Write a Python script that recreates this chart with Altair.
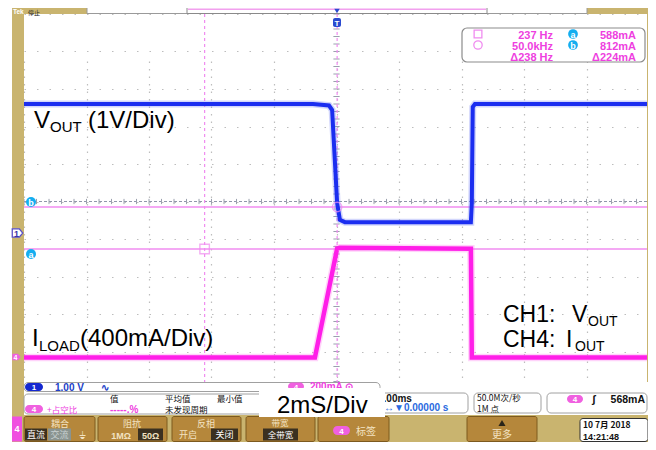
import altair as alt
import pandas as pd

# ---------------- captured values ----------------
# CH1  VOUT trace (time in ms, value in V), 1 V/div
t_vout = [-10.0, -0.75, -0.24, -0.14, 0.02, 0.11, 0.27, 4.30, 4.33, 4.36, 4.43, 10.0]
v_vout = [3.44, 3.44, 3.40, 3.28, 0.80, 0.35, 0.29, 0.29, 0.80, 3.36, 3.44, 3.44]
# CH4  ILOAD trace (time in ms, value in mA), 400 mA/div
t_iload = [-10.0, -0.69, 0.02, 0.10, 4.30, 4.33, 10.0]
i_iload = [0, 0, 1163, 1170, 1160, 0, 0]
# cursors
cursor_t = [-4.22, 0.02]          # ms  (square, circle)
cursor_level = [-1.267, -0.147]   # div (a, b)
readout_left = ["237 Hz", "50.0kHz", "\u0394238 Hz"]
readout_right = ["588mA", "812mA", "\u0394224mA"]

MS_PER_DIV = 2.0
CH1_V_PER_DIV = 1.0
CH4_MA_PER_DIV = 400.0
CH1_OFFSET_DIV = -0.84
CH4_OFFSET_DIV = -4.16

OFF = 8
W, H = 640, 434
GOLD = "#c9b46f"
BRONZE = "#b5873b"
MAG = "#ee3fe0"
CUR = "#f08cf0"
CYAN = "#14aef0"
CN = "Noto Sans CJK SC"
LS = "Liberation Sans"

xs = alt.Scale(domain=[-5 * MS_PER_DIV, 5 * MS_PER_DIV], range=[24 - OFF, 649 - OFF], nice=False, zero=False)
ys = alt.Scale(domain=[-5, 5], range=[389 - OFF, 14 - OFF], nice=False, zero=False)
xaxis = alt.Axis(values=[-10, -8, -6, -4, -2, 0, 2, 4, 6, 8, 10], grid=True, gridDash=[1.5, 6],
                 gridColor="#bdbdbd", gridWidth=1.2, labels=False, ticks=False, domain=False, title=None)
yaxis = alt.Axis(values=list(range(-5, 6)), grid=True, gridDash=[1.5, 11],
                 gridColor="#bdbdbd", gridWidth=1.2, labels=False, ticks=False, domain=False, title=None)


def XF(f):
    return alt.X(f, scale=xs, axis=xaxis)


def YF(f):
    return alt.Y(f, scale=ys, axis=yaxis)


def XD(v):
    return alt.XDatum(v, type="quantitative", scale=xs, axis=xaxis)


def YD(v):
    return alt.YDatum(v, type="quantitative", scale=ys, axis=yaxis)


one = pd.DataFrame({"k": [0]})
layers = []

# ---- graticule centre ticks ----
ht = pd.DataFrame({"t": [-10 + 0.4 * k for k in range(51)]})
vt = pd.DataFrame({"d": [-5 + 0.2 * k for k in range(51)]})
layers.append(alt.Chart(one).mark_rule(color="#8f98aa", strokeDash=[3, 2], strokeWidth=1).encode(
    x=XD(-10), x2=alt.X2Datum(10), y=YD(0)))
layers.append(alt.Chart(ht).mark_rule(color="#9aa0ae", strokeWidth=1).encode(
    x=XF("t:Q"), y=YD(-0.07), y2=alt.Y2Datum(0.07)))
layers.append(alt.Chart(vt).mark_rule(color="#9aa0ae", strokeWidth=1).encode(
    x=XD(-0.1), x2=alt.X2Datum(0.1), y=YF("d:Q")))

# ---- cursors ----
cl = pd.DataFrame({"lev": cursor_level})
ct = pd.DataFrame({"t": cursor_t})
layers.append(alt.Chart(cl).mark_rule(color=CUR, strokeWidth=1.4).encode(
    x=XD(-10), x2=alt.X2Datum(10), y=YF("lev:Q")))
layers.append(alt.Chart(ct).mark_rule(color=CUR, strokeWidth=1.2, strokeDash=[3, 3]).encode(
    x=XF("t:Q"), y=YD(-5), y2=alt.Y2Datum(5)))

# ---- traces ----
dv = pd.DataFrame({"t": t_vout, "v": v_vout})
di = pd.DataFrame({"t": t_iload, "i": i_iload})
vexpr = f"datum.v / {CH1_V_PER_DIV} + ({CH1_OFFSET_DIV})"
iexpr = f"datum.i / {CH4_MA_PER_DIV} + ({CH4_OFFSET_DIV})"
layers.append(alt.Chart(dv).transform_calculate(div=vexpr).mark_line(
    color="#6a78f5", strokeWidth=7, opacity=0.3).encode(x=XF("t:Q"), y=YF("div:Q")))
layers.append(alt.Chart(dv).transform_calculate(div=vexpr).mark_line(
    color="#1b2ef0", strokeWidth=4).encode(x=XF("t:Q"), y=YF("div:Q")))
layers.append(alt.Chart(di).transform_calculate(div=iexpr).mark_line(
    color="#ff6cf0", strokeWidth=7.5, opacity=0.3).encode(x=XF("t:Q"), y=YF("div:Q")))
layers.append(alt.Chart(di).transform_calculate(div=iexpr).mark_line(
    color="#ff1ee8", strokeWidth=4.5).encode(x=XF("t:Q"), y=YF("div:Q")))

# cursor markers
layers.append(alt.Chart(one).mark_point(shape="square", filled=False, color=CUR, size=90, strokeWidth=1.4).encode(
    x=XD(cursor_t[0]), y=YD(cursor_level[0])))
layers.append(alt.Chart(one).mark_point(shape="circle", filled=False, color=CUR, size=90, strokeWidth=1.4).encode(
    x=XD(cursor_t[1]), y=YD(cursor_level[1])))


# ---------------- helpers for screen furniture ----------------
def rect(x0, y0, x1, y1, fill, stroke=None, sw=1.0, r=0):
    kw = dict(fill=fill, cornerRadius=r)
    if stroke:
        kw.update(stroke=stroke, strokeWidth=sw)
    return alt.Chart(one).mark_rect(**kw).encode(
        x=alt.value(x0 - OFF), x2=alt.value(x1 - OFF), y=alt.value(y0 - OFF), y2=alt.value(y1 - OFF))


def text(x, y, s, size=10, color="black", weight="normal", align="left", font=LS):
    return alt.Chart(one).mark_text(text=s, fontSize=size, color=color, fontWeight=weight, align=align,
                                    baseline="alphabetic", font=font).encode(
        x=alt.value(x - OFF), y=alt.value(y - OFF))


def dot(x, y, size, fill, shape="circle", stroke=None, sw=1.0, filled=True):
    kw = dict(shape=shape, size=size, filled=filled, opacity=1)
    if filled:
        kw.update(fill=fill, fillOpacity=1)
        if stroke:
            kw.update(stroke=stroke, strokeWidth=sw)
        else:
            kw.update(strokeWidth=0)
    else:
        kw.update(stroke=fill, strokeWidth=sw)
    return alt.Chart(one).mark_point(**kw).encode(x=alt.value(x - OFF), y=alt.value(y - OFF))


# ---- annotations ----
layers += [
    text(34, 128, "V", 24), text(50, 132, "OUT", 15), text(88, 128, "(1V/Div)", 24),
    text(32, 346, "I", 24), text(39, 351, "LOAD", 15), text(80, 346, "(400mA/Div)", 24),
    text(503, 322, "CH1:", 23), text(572, 322, "V", 23), text(588, 326, "OUT", 14),
    text(503, 346.5, "CH4:", 23), text(566, 346.5, "I", 23), text(575, 350.5, "OUT", 14),
]

# ---- cursor readout box ----
layers.append(rect(462, 28, 645, 62, "white", stroke="#8c8c8c", sw=1.2, r=5))
layers.append(dot(478, 34, 60, CUR, shape="square", filled=False, sw=1.3))
layers.append(dot(478, 45, 70, CUR, shape="circle", filled=False, sw=1.3))
for k, yy in enumerate([38.5, 49.5, 60.5]):
    layers.append(text(553, yy, readout_left[k], 11, MAG, "bold", "right"))
    layers.append(text(636, yy, readout_right[k], 11, MAG, "bold", "right"))
for yy, lab in [(34, "a"), (45, "b")]:
    layers.append(dot(573, yy, 95, CYAN))
    layers.append(text(573, yy + 3.5, lab, 9, "white", "bold", "center"))

# ---- left markers ----
for yy, lab in [(202, "b"), (254, "a")]:
    layers.append(dot(31, yy, 100, CYAN))
    layers.append(text(31, yy + 3.5, lab, 9, "white", "bold", "center"))

# ---- frame furniture ----
layers += [
    rect(OFF, OFF, 12, 450, "white"),
    rect(12, 5, 656, 14, GOLD),
    rect(87, 5.5, 587, 13.5, "white", stroke="#9a9a9a", sw=1),
    rect(187, 5.5, 487, 13.5, "white", stroke="#8a8a8a", sw=1),
    rect(188, 8.6, 486, 10.0, "#f2a0ee"),
    text(13, 14.4, "Tek", 6.5, "white", "bold"),
    text(28, 14.6, "停止", 6, "#222", font=CN),
    rect(12, 14, 24, 416, GOLD),
    rect(647, 14, 649.5, 382, GOLD),
]
# trigger marker
layers.append(dot(337, 11, 30, "#2a4ad0", shape="triangle-down"))
layers.append(rect(333, 18, 341, 27, "#2a4ad0", r=2))
layers.append(text(337, 25.5, "T", 8, "white", "bold", "center"))
# channel ground markers
pent = "M-1,-0.8L0.35,-0.8L1,0L0.35,0.8L-1,0.8Z"
layers.append(dot(17.5, 233, 110, "white", shape=pent, stroke="#5a50c8", sw=1.3))
layers.append(text(16.5, 236.5, "1", 9, "#3a30a8", "bold", "center"))
layers.append(dot(16.5, 357, 70, "#f060e0", shape=pent))
layers.append(text(15.5, 360, "4", 7, "white", "bold", "center"))

# ---- status rows ----
layers += [
    rect(24, 382, 656, 415, "white"),
    rect(24, 382.5, 380, 391.5, "white", stroke="#a0a0a0", sw=1, r=4),
    rect(25, 383, 43, 391, "#1428d0", r=4),
    text(34, 390, "1", 8, "white", "bold", "center"),
    text(55, 390.5, "1.00 V", 10, "#2040c8", "bold"),
    text(101, 390.5, "\u223f", 10, "#2040c8", "bold"),
    rect(288, 382.5, 304, 390.5, "#f060e0", r=4),
    text(296, 389.5, "4", 8, "white", "bold", "center"),
    text(310, 390, "200mA \u2299", 10, MAG, "bold"),
    # row B
    rect(24, 394, 270, 414, "white", stroke="#a0a0a0", sw=1, r=4),
    text(110, 402, "值", 8.5, "#111", font=CN),
    text(165, 402, "平均值", 8.5, "#111", font=CN),
    text(217, 402, "最小值", 8.5, "#111", font=CN),
    rect(25, 405, 43, 413, "#f060e0", r=4),
    text(34, 412, "4", 8, "white", "bold", "center"),
    text(47, 412.5, "+占空比", 8.5, MAG, font=CN),
    text(110, 412.5, "-----.%", 10, MAG, "bold"),
    text(165, 412.5, "未发现周期", 8.5, "#111", font=CN),
    rect(372, 393, 468, 413, "white", stroke="#a0a0a0", sw=1, r=4),
    text(378, 401.5, "2.00ms", 10, "#111", "bold"),
    text(384, 411, "\u2194\u25bc0.00000 s", 10, "#2a6ae0", "bold"),
    rect(474, 393, 541, 413, "white", stroke="#a0a0a0", sw=1, r=4),
    text(477, 401, "50.0M次/秒", 8.5, "#111", font=CN),
    text(477, 411.5, "1M 点", 8.5, "#111", font=CN),
    rect(547, 393, 647, 413, "white", stroke="#a0a0a0", sw=1, r=4),
    rect(567, 395, 583, 403, "#f060e0", r=4),
    text(575, 402, "4", 8, "white", "bold", "center"),
    text(592, 402.5, "\u0283", 11, "#111", "bold"),
    text(645, 402.5, "568mA", 10.5, "#111", "bold", "right"),
]

# ---- bottom button row (kept inside the visible page) ----
CREAM = "#f3e3c3"
CHIP = "#3a3020"
layers += [
    rect(12, 415, 656, 450, GOLD),
    rect(12, 416.5, 22, 441.5, "#f050e0"),
    text(17, 432, "4", 9, "white", "bold", "center"),
]
for x0, x1 in [(24, 95), (98, 167), (172, 241), (246, 315), (318, 389), (467, 537)]:
    layers.append(rect(x0, 416.5, x1, 441.5, BRONZE, stroke="#7d5a1e", sw=1, r=2))
layers += [
    text(60, 426.5, "耦合", 9, CREAM, font=CN, align="center"),
    rect(25, 428.5, 47, 440.5, CHIP),
    text(36, 438, "直流", 9, "white", font=CN, align="center"),
    rect(48, 428.5, 71, 440.5, "#8a9490"),
    text(59.5, 438, "交流", 9, "#c8d0d0", font=CN, align="center"),
    text(82, 438.5, "\u23da", 10, CREAM, font="DejaVu Sans", align="center"),
    text(132, 426.5, "阻抗", 9, CREAM, font=CN, align="center"),
    text(121, 438.5, "1M\u03a9", 9, CREAM, "bold", "center"),
    rect(138, 428.5, 163, 440.5, CHIP),
    text(150.5, 438.5, "50\u03a9", 9, CREAM, "bold", "center"),
    text(206, 426.5, "反相", 9, CREAM, font=CN, align="center"),
    text(188, 438, "开启", 9, CREAM, font=CN, align="center"),
    rect(211, 428.5, 238, 440.5, CHIP),
    text(224.5, 438, "关闭", 9, "white", font=CN, align="center"),
    text(280, 426.3, "带宽", 8.5, CREAM, font=CN, align="center"),
    rect(263, 428.5, 298, 440.5, CHIP),
    text(280.5, 438.3, "全带宽", 8.5, "white", font=CN, align="center"),
    rect(333, 426, 350, 435, "#f060e0", r=4.5),
    text(341.5, 433.5, "4", 8, "white", "bold", "center"),
    text(356, 435, "标签", 10, CREAM, font=CN),
    dot(502, 423, 50, "#2a2418", shape="triangle-up"),
    text(502, 438, "更多", 10, CREAM, font=CN, align="center"),
    rect(580, 418.5, 648, 441.5, "white", stroke="#333333", sw=1, r=3),
    text(583, 428, "10 7月  2018", 8.5, "#111", "bold", font=CN),
    text(583, 439.5, "14:21:48", 9, "#111", "bold"),
]

# ---- 2mS/Div label box ----
layers.append(rect(259, 388, 385, 417, "white"))
layers.append(text(277, 413, "2mS/Div", 24))

chart = alt.layer(*layers).properties(
    width=W, height=H, padding=0, background="white",
    autosize=alt.AutoSizeParams(type="none"),
).configure_view(stroke=None)

chart.save("out.html", embed_options={"renderer": "svg", "actions": False})
